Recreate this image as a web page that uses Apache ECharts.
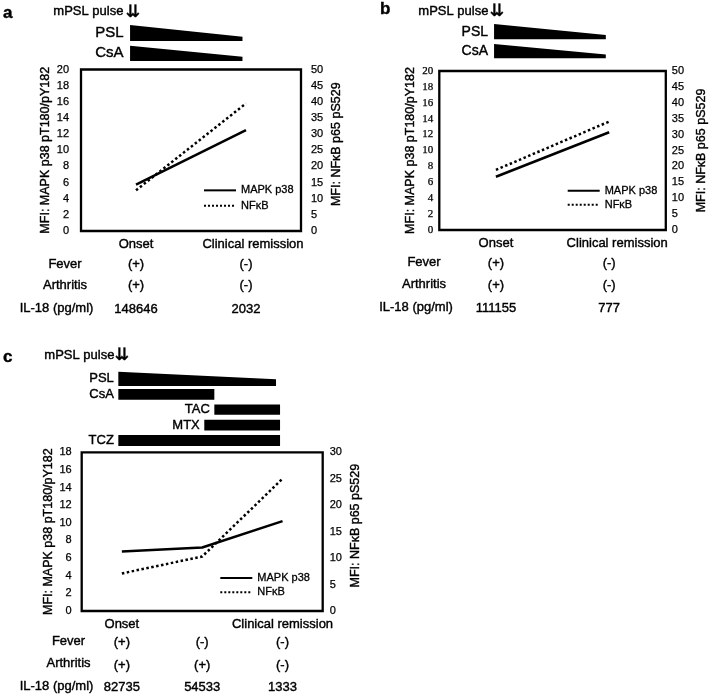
<!DOCTYPE html>
<html><head><meta charset="utf-8">
<script src="https://cdn.jsdelivr.net/npm/echarts@6/dist/echarts.min.js"></script>
<style>html,body{margin:0;padding:0;background:#fff}#c{width:709px;height:696px}</style>
</head><body><div id="c"></div>
<script>
// ---------- data ----------
const catsAB = ['Onset', 'Clinical remission'];
const catsC = ['Onset', '', 'Clinical remission'];
const seriesNames = ['MAPK p38', 'NFκB'];
const mapkA = [5.75, 12.5];
const nfkbA = [12.6, 39.5];
const mapkB = [6.7, 12.3];
const nfkbB = [18.9, 34.1];
const mapkC = [6.75, 7.2, 10.2];
const nfkbC = [7.1, 10.3, 25.0];
const feverA = ['(+)', '(-)'];
const arthA = ['(+)', '(-)'];
const il18A = ['148646', '2032'];
const feverB = ['(+)', '(-)'];
const arthB = ['(+)', '(-)'];
const il18B = ['111155', '777'];
const feverC = ['(+)', '(-)', '(-)'];
const arthC = ['(+)', '(+)', '(-)'];
const il18C = ['82735', '54533', '1333'];
const rowLabels = ['Fever', 'Arthritis', 'IL-18 (pg/ml)'];
const leftTitle = 'MFI: MAPK p38 pT180/pY182';
const rightTitle = 'MFI: NFκB p65 pS529';
// treatments: [start, end, row, leftHeight, rightHeight] (x in category units, heights in row units)
const treatNamesA = ['PSL', 'CsA'];
const treatA = [[0.446, 1.468, 0, 0.79, 0.21], [0.446, 1.468, 1, 0.75, 0.21]];
const treatNamesB = ['PSL', 'CsA'];
const treatB = [[0.483, 1.469, 0, 0.78, 0.22], [0.483, 1.469, 1, 0.73, 0.2]];
const treatNamesC = ['PSL', 'CsA', 'TAC', 'MTX', 'TCZ'];
const treatC = [[0.456, 2.419, 0, 0.93, 0.45], [0.456, 1.651, 1, 0.70, 0.70], [1.651, 2.469, 2, 0.66, 0.66], [1.526, 2.469, 3, 0.69, 0.69], [0.456, 2.469, 4, 0.71, 0.71]];

// ---------- chart ----------
const F = "'Liberation Sans', Arial, sans-serif";
const SERIF = "'Liberation Serif', 'Times New Roman', serif";
const TB = 0.4; // slight text thickening
const chart = echarts.init(document.getElementById('c'));

const grids = [
  {left: 81, top: 69.5, width: 220, height: 161.5},
  {left: 439.3, top: 71, width: 226.7, height: 159},
  {left: 81.7, top: 452.3, width: 241, height: 158.7},
  {left: 81, top: 22.85, width: 220, height: 40.6},
  {left: 439.3, top: 21.95, width: 226.7, height: 39},
  {left: 81.7, top: 371.2, width: 241, height: 77}
].map((g, i) => Object.assign(g, i < 3 ? {show: true, borderColor: '#000', borderWidth: 2.3, backgroundColor: 'transparent'} : {show: false}));

function catAxis(grid, data, offset) {
  return {type: 'category', gridIndex: grid, data: data, position: 'bottom', offset: offset,
    axisLine: {show: false}, axisTick: {show: false}, splitLine: {show: false},
    axisLabel: {fontSize: 13, color: '#000', fontFamily: F, margin: 6, interval: 0, lineHeight: 14,
      textBorderColor: '#000', textBorderWidth: TB}};
}
function shiftCat(arr, idx, pad) {
  return arr.map((v, i) => i === idx ? {value: v, textStyle: {padding: [0, 0, 0, pad]}} : v);
}
const xAxis = [
  catAxis(0, shiftCat(catsAB, 1, 14), 0), catAxis(0, feverA, 20.5), catAxis(0, arthA, 41.5), catAxis(0, il18A, 65),
  catAxis(1, shiftCat(catsAB, 1, 16), 0), catAxis(1, feverB, 20), catAxis(1, arthB, 42), catAxis(1, il18B, 65),
  catAxis(2, catsC, 0), catAxis(2, feverC, 18.5), catAxis(2, arthC, 41), catAxis(2, il18C, 63),
  {type: 'value', gridIndex: 3, min: 0, max: 2, show: false},
  {type: 'value', gridIndex: 4, min: 0, max: 2, show: false},
  {type: 'value', gridIndex: 5, min: 0, max: 3, show: false}
];
function yAx(grid, pos, max, interval, name, gap, margin, font, namePad) {
  return {type: 'value', gridIndex: grid, position: pos, min: 0, max: max, interval: interval,
    name: name, nameLocation: 'middle', nameRotate: 90, nameGap: gap,
    nameTextStyle: {fontSize: 12.5, color: '#000', fontFamily: F, padding: namePad || 0,
      textBorderColor: '#000', textBorderWidth: TB},
    axisLine: {show: false}, axisTick: {show: false}, splitLine: {show: false},
    axisLabel: {fontSize: 11, color: '#000', fontFamily: font, margin: margin,
      textBorderColor: '#000', textBorderWidth: 0.25}};
}
const yAxis = [
  yAx(0, 'left', 20, 2, leftTitle, 27, 12, F),
  yAx(0, 'right', 50, 5, rightTitle, 29, 10, F, [0, 0, 0, 12]),
  yAx(1, 'left', 20, 2, leftTitle, 22, 6, SERIF),
  yAx(1, 'right', 50, 5, rightTitle, 29, 6, F),
  yAx(2, 'left', 18, 2, leftTitle, 23, 10, F),
  yAx(2, 'right', 30, 5, rightTitle, 26, 7, F, [0, 0, 0, 12]),
  {type: 'value', gridIndex: 3, min: 0, max: 2, inverse: true, show: false},
  {type: 'value', gridIndex: 4, min: 0, max: 2, inverse: true, show: false},
  {type: 'value', gridIndex: 5, min: 0, max: 5, inverse: true, show: false}
];

function lineSeries(name, data, xi, yi, dotted) {
  return {type: 'line', name: name, data: data, xAxisIndex: xi, yAxisIndex: yi, symbol: 'none', silent: true,
    lineStyle: {color: '#000', width: 2.5, type: dotted ? 'dotted' : 'solid', cap: 'butt'},
    itemStyle: {color: '#000'}};
}
function treatSeries(data, names, xi, yi, fontSize, gap) {
  return {type: 'custom', data: data, xAxisIndex: xi, yAxisIndex: yi, silent: true,
    renderItem: function (params, api) {
      const s = api.value(0), e = api.value(1), r = api.value(2), hl = api.value(3), hr = api.value(4);
      const bottom = r + 0.5 + hl / 2;
      const p1 = api.coord([s, bottom - hl]), p2 = api.coord([e, bottom - hr]),
            p3 = api.coord([e, bottom]), p4 = api.coord([s, bottom]);
      const c = api.coord([s, r + 0.5]);
      return {type: 'group', children: [
        {type: 'polygon', shape: {points: [p1, p2, p3, p4]}, style: {fill: '#000'}},
        {type: 'text', x: p1[0] - gap, y: c[1], style: {text: names[params.dataIndex], fill: '#000',
          stroke: '#000', lineWidth: TB,
          font: fontSize + 'px ' + F, align: 'right', verticalAlign: 'middle'}}
      ]};
    }};
}
const series = [
  lineSeries(seriesNames[0], mapkA, 0, 0, false), lineSeries(seriesNames[1], nfkbA, 0, 1, true),
  lineSeries(seriesNames[0], mapkB, 4, 2, false), lineSeries(seriesNames[1], nfkbB, 4, 3, true),
  lineSeries(seriesNames[0], mapkC, 8, 4, false), lineSeries(seriesNames[1], nfkbC, 8, 5, true),
  treatSeries(treatA, treatNamesA, 12, 6, 15, 6.5),
  treatSeries(treatB, treatNamesB, 13, 7, 14, 6),
  treatSeries(treatC, treatNamesC, 14, 8, 13, 4.5)
];
function legendAt(left, top, gap) {
  return {left: left, top: top, orient: 'vertical', itemWidth: 32, itemHeight: 12, itemGap: gap,
    data: seriesNames, selectedMode: false,
    itemStyle: {color: 'rgba(0,0,0,0)', borderColor: 'rgba(0,0,0,0)', borderWidth: 0, opacity: 0},
    textStyle: {fontSize: 11, color: '#000', fontFamily: F, textBorderColor: '#000', textBorderWidth: 0.3}};
}
function txt(text, x, y, size, align, weight, family, sw) {
  return {type: 'text', x: x, y: y, silent: true, style: {text: text, fill: '#000',
    stroke: '#000', lineWidth: sw == null ? TB : sw,
    font: (weight || 'normal') + ' ' + size + 'px ' + (family || F), align: align || 'center', verticalAlign: 'middle'}};
}
const graphic = [
  txt('a', 3, 13, 17, 'left', 'bold'),
  txt('mPSL pulse', 53.3, 11.7, 13, 'left'),
  txt('⇊', 125.5, 12.5, 17, 'left', 'bold', "'DejaVu Sans'", 0.2),
  txt('b', 380, 9.5, 17, 'left', 'bold'),
  txt('mPSL pulse', 418.3, 11, 13, 'left'),
  txt('⇊', 489.5, 12, 17, 'left', 'bold', "'DejaVu Sans'", 0.2),
  txt('c', 3, 357, 17, 'left', 'bold'),
  txt('mPSL pulse', 44.3, 355, 13, 'left'),
  txt('⇊', 114.5, 355.5, 17, 'left', 'bold', "'DejaVu Sans'", 0.2),
  txt(rowLabels[0], 65, 264.5, 13), txt(rowLabels[1], 65, 285.5, 13), txt(rowLabels[2], 56.5, 308.5, 13),
  txt(rowLabels[0], 424, 262, 13), txt(rowLabels[1], 424, 284.3, 13), txt(rowLabels[2], 416, 307, 13),
  txt(rowLabels[0], 68.5, 641.5, 13), txt(rowLabels[1], 68.5, 663.5, 13), txt(rowLabels[2], 56.5, 686, 13)
];

chart.setOption({
  animation: false,
  backgroundColor: '#fff',
  grid: grids,
  xAxis: xAxis,
  yAxis: yAxis,
  legend: [legendAt(198, 179.7, 4), legendAt(561.7, 180, 2.7), legendAt(214.3, 567.3, 3)],
  series: series,
  graphic: graphic
});
</script></body></html>
